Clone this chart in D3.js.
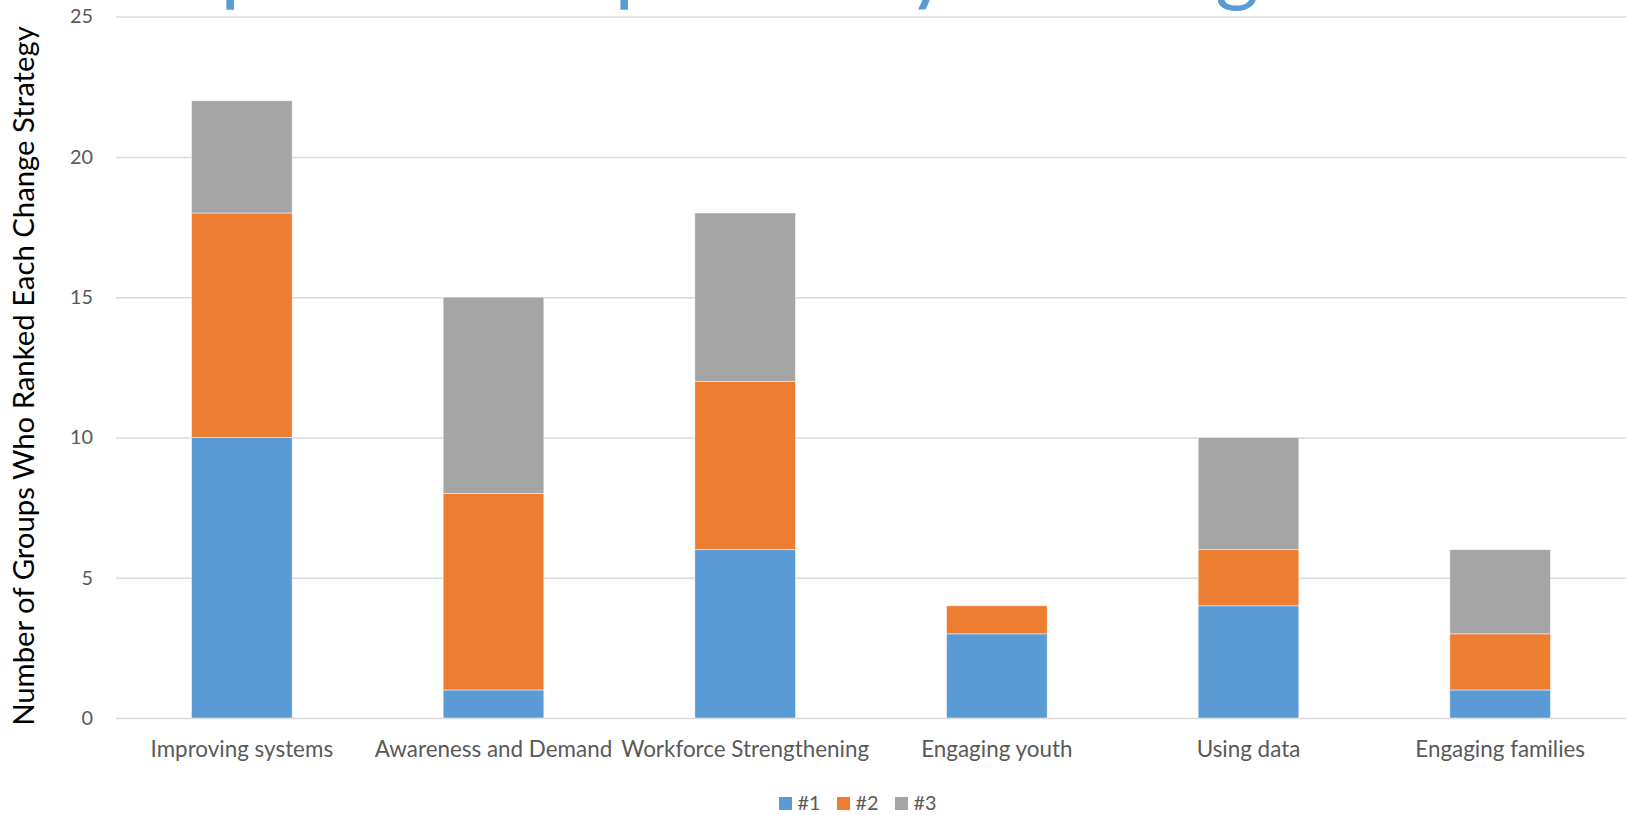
<!DOCTYPE html>
<html>
<head>
<meta charset="utf-8">
<script src="https://cdn.jsdelivr.net/npm/d3@7/dist/d3.min.js"></script>
<style>
  html, body { margin: 0; padding: 0; background: #fff; overflow: hidden; }
  svg { display: block; }
</style>
</head>
<body>
<svg id="chart" width="1627" height="815"></svg>
<script>
// ---- Data ----
const categories = ["Improving systems", "Awareness and Demand", "Workforce Strengthening", "Engaging youth", "Using data", "Engaging families"];
const seriesNames = ["#1", "#2", "#3"];
const rank1 = [10, 1, 6, 3, 4, 1];
const rank2 = [8, 7, 6, 1, 2, 2];
const rank3 = [4, 7, 6, 0, 4, 3];
const yTicks = [0, 5, 10, 15, 20, 25];
const yLabel = "Number of Groups Who Ranked Each Change Strategy";
const titleWords = ["Top", "Group", "Priority", "Ranking"];

// ---- Layout ----
const W = 1627, H = 815;
const plot = { left: 116, right: 1626, top: 16.6, bottom: 718 };
const colors = ["#5B9BD5", "#ED7D31", "#A5A5A5"];
const textFont = "Lato, 'Open Sans', 'DejaVu Sans', sans-serif";

const svg = d3.select("#chart");

const rows = categories.map((c, i) => ({ cat: c, "#1": rank1[i], "#2": rank2[i], "#3": rank3[i] }));
const stack = d3.stack().keys(seriesNames)(rows);

const x = d3.scaleBand().domain(categories).range([plot.left, plot.right]).paddingInner(0.6).paddingOuter(0.3);
const y = d3.scaleLinear().domain([0, 25]).range([plot.bottom, plot.top]);
const color = d3.scaleOrdinal().domain(seriesNames).range(colors);

function fit(sel, target) {
  const node = sel.node();
  const fs = parseFloat(sel.attr("font-size"));
  const w = node.getComputedTextLength();
  const nf = w > 0 ? fs * target / w : fs;
  sel.attr("font-size", nf);
  return nf;
}

// ---- Title (cut off at the top edge, only descenders visible) ----
const titleSize = 84;
const titleFont = "Lato, 'Open Sans', sans-serif";
const titleText = svg.append("text")
  .attr("y", -5)
  .attr("font-family", titleFont)
  .attr("font-weight", 400)
  .attr("font-size", titleSize)
  .attr("fill", "#5B9BD5");
const descIdx = [2, 4, 7, 6];
const descOffset = [0.1, 0.1, 0.22, 0.27];
const targets = [229, 623, 926, 1238];
titleWords.forEach((w, i) => {
  const tmp = svg.append("text").attr("font-family", titleFont)
    .attr("font-weight", 400).attr("font-size", titleSize).text(w);
  const before = descIdx[i] > 0 ? tmp.node().getSubStringLength(0, descIdx[i]) : 0;
  tmp.remove();
  titleText.append("tspan").attr("x", targets[i] - before - descOffset[i] * titleSize).text(w);
});

// ---- Y axis + gridlines ----
const yAxis = svg.append("g")
  .attr("transform", `translate(${plot.left},0)`)
  .call(d3.axisLeft(y).tickValues(yTicks).tickSize(-(plot.right - plot.left)).tickPadding(23));
yAxis.select(".domain").remove();
yAxis.selectAll(".tick line").attr("stroke", "#D9D9D9").attr("stroke-width", 1.5);
const yt = yAxis.selectAll(".tick text")
  .attr("fill", "#595959")
  .attr("font-family", textFont)
  .attr("font-size", 16);
{
  const s = yAxis.selectAll(".tick text").filter(d => d === 25);
  const fs = fit(s, 23);
  yt.attr("font-size", fs);
}

// ---- Bars ----
svg.append("g").selectAll("g")
  .data(stack)
  .join("g")
  .attr("fill", d => color(d.key))
  .selectAll("rect")
  .data(d => d)
  .join("rect")
  .attr("x", d => x(d.data.cat))
  .attr("width", x.bandwidth())
  .attr("y", d => y(d[1]))
  .attr("height", d => y(d[0]) - y(d[1]))
  .attr("stroke", "#fff")
  .attr("stroke-opacity", 0.6)
  .attr("stroke-width", 0.8);

// ---- X axis labels ----
const xAxis = svg.append("g")
  .attr("transform", `translate(0,${plot.bottom})`)
  .call(d3.axisBottom(x).tickSize(0).tickPadding(0));
xAxis.select(".domain").remove();
const xt = xAxis.selectAll(".tick text")
  .attr("fill", "#595959")
  .attr("font-family", textFont)
  .attr("font-size", 20)
  .attr("y", 31)
  .attr("dy", "0.35em");
{
  const s = xAxis.selectAll(".tick text").filter(d => d === categories[0]);
  const fs = fit(s, 182.6);
  xt.attr("font-size", fs);
}

// ---- Y axis title ----
const yl = svg.append("text")
  .attr("transform", `translate(34,376) rotate(-90)`)
  .attr("text-anchor", "middle")
  .attr("font-family", textFont)
  .attr("font-size", 28)
  .attr("fill", "#000")
  .text(yLabel);
fit(yl, 700);

// ---- Legend ----
const legend = svg.append("g");
const lg = legend.selectAll("g")
  .data(seriesNames)
  .join("g")
  .attr("transform", (d, i) => `translate(${779 + i * 58},797)`);
lg.append("rect").attr("width", 13).attr("height", 13).attr("fill", d => color(d));
const lt = lg.append("text")
  .attr("x", 18.5)
  .attr("y", 13.3)
  .attr("fill", "#595959")
  .attr("font-family", textFont)
  .attr("font-size", 19)
  .text(d => d);
{
  const fs = fit(d3.select(lt.nodes()[0]), 23);
  lt.attr("font-size", fs);
}
</script>
</body>
</html>
